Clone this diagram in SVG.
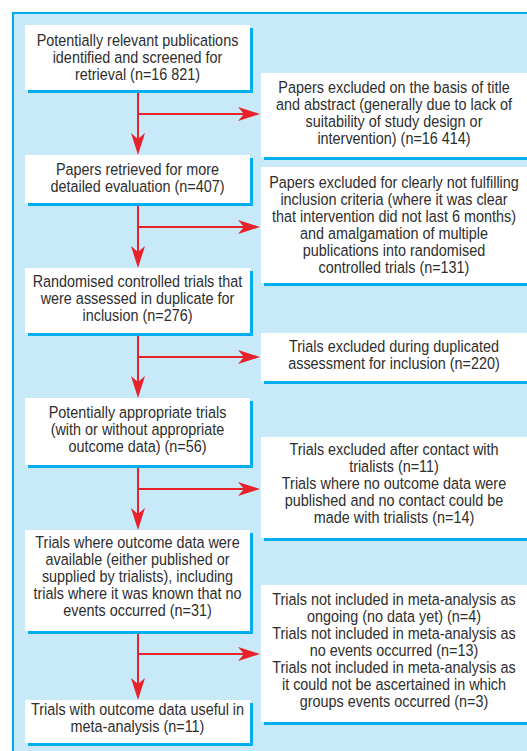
<svg xmlns="http://www.w3.org/2000/svg" width="527" height="751" viewBox="0 0 527 751">
<style>
.panel{fill:#c7e9f8;stroke:#00aeef;stroke-width:2}
.box{fill:#ffffff}
.sh{fill:#00aeef}
.t{font-family:"Liberation Sans",Arial,sans-serif;font-size:17px;fill:#2e2e2e;text-anchor:middle}
.ln{stroke:#e8222b;stroke-width:2;fill:none}
</style>
<defs>
<marker id="ah" viewBox="-23 -8 24 16" refX="-6" refY="0" markerWidth="24" markerHeight="16" markerUnits="userSpaceOnUse" orient="auto">
<path d="M0,0 L-22,-7 L-16,0 L-22,7 Z" fill="#e8222b"/>
</marker>
</defs>
<rect class="panel" x="13" y="13" width="530" height="760"/>

<g id="connectors">
<line class="ln" x1="138" y1="90" x2="138" y2="149" marker-end="url(#ah)"/>
<line class="ln" x1="138" y1="114" x2="254" y2="114" marker-end="url(#ah)"/>
<line class="ln" x1="138" y1="203" x2="138" y2="262" marker-end="url(#ah)"/>
<line class="ln" x1="138" y1="227" x2="254" y2="227" marker-end="url(#ah)"/>
<line class="ln" x1="138" y1="333" x2="138" y2="392" marker-end="url(#ah)"/>
<line class="ln" x1="138" y1="357" x2="254" y2="357" marker-end="url(#ah)"/>
<line class="ln" x1="138" y1="465" x2="138" y2="524" marker-end="url(#ah)"/>
<line class="ln" x1="138" y1="489" x2="254" y2="489" marker-end="url(#ah)"/>
<line class="ln" x1="138" y1="631" x2="138" y2="694" marker-end="url(#ah)"/>
<line class="ln" x1="138" y1="654" x2="254" y2="654" marker-end="url(#ah)"/>
</g>

<g id="n1">
<rect class="sh" x="28" y="28" width="225" height="65"/>
<rect class="box" x="25" y="25" width="225" height="65"/>
<text class="t" transform="translate(137.5,0) scale(0.847,1)"><tspan x="0" y="46">Potentially relevant publications</tspan><tspan x="0" y="63">identified and screened for</tspan><tspan x="0" y="80">retrieval (n=16 821)</tspan></text>
</g>

<g id="n2">
<rect class="sh" x="264" y="76" width="280" height="84"/>
<rect class="box" x="261" y="73" width="280" height="84"/>
<text class="t" transform="translate(394,0) scale(0.847,1)"><tspan x="0" y="93">Papers excluded on the basis of title</tspan><tspan x="0" y="110">and abstract (generally due to lack of</tspan><tspan x="0" y="127">suitability of study design or</tspan><tspan x="0" y="144">intervention) (n=16 414)</tspan></text>
</g>

<g id="n3">
<rect class="sh" x="28" y="158" width="225" height="48"/>
<rect class="box" x="25" y="155" width="225" height="48"/>
<text class="t" transform="translate(137.5,0) scale(0.847,1)"><tspan x="0" y="175">Papers retrieved for more</tspan><tspan x="0" y="192">detailed evaluation (n=407)</tspan></text>
</g>

<g id="n4">
<rect class="sh" x="264" y="170" width="280" height="116"/>
<rect class="box" x="261" y="167" width="280" height="116"/>
<text class="t" transform="translate(394,0) scale(0.847,1)"><tspan x="0" y="188">Papers excluded for clearly not fulfilling</tspan><tspan x="0" y="205">inclusion criteria (where it was clear</tspan><tspan x="0" y="222">that intervention did not last 6 months)</tspan><tspan x="0" y="239">and amalgamation of multiple</tspan><tspan x="0" y="256">publications into randomised</tspan><tspan x="0" y="273">controlled trials (n=131)</tspan></text>
</g>

<g id="n5">
<rect class="sh" x="28" y="271" width="225" height="65"/>
<rect class="box" x="25" y="268" width="225" height="65"/>
<text class="t" transform="translate(137.5,0) scale(0.847,1)"><tspan x="0" y="287">Randomised controlled trials that</tspan><tspan x="0" y="304">were assessed in duplicate for</tspan><tspan x="0" y="321">inclusion (n=276)</tspan></text>
</g>

<g id="n6">
<rect class="sh" x="264" y="336" width="280" height="48"/>
<rect class="box" x="261" y="333" width="280" height="48"/>
<text class="t" transform="translate(394,0) scale(0.847,1)"><tspan x="0" y="352">Trials excluded during duplicated</tspan><tspan x="0" y="369">assessment for inclusion (n=220)</tspan></text>
</g>

<g id="n7">
<rect class="sh" x="28" y="401" width="225" height="67"/>
<rect class="box" x="25" y="398" width="225" height="67"/>
<text class="t" transform="translate(137.5,0) scale(0.847,1)"><tspan x="0" y="418">Potentially appropriate trials</tspan><tspan x="0" y="435">(with or without appropriate</tspan><tspan x="0" y="452">outcome data) (n=56)</tspan></text>
</g>

<g id="n8">
<rect class="sh" x="264" y="440" width="280" height="101"/>
<rect class="box" x="261" y="437" width="280" height="101"/>
<text class="t" transform="translate(394,0) scale(0.847,1)"><tspan x="0" y="455">Trials excluded after contact with</tspan><tspan x="0" y="472">trialists (n=11)</tspan><tspan x="0" y="489">Trials where no outcome data were</tspan><tspan x="0" y="506">published and no contact could be</tspan><tspan x="0" y="523">made with trialists (n=14)</tspan></text>
</g>

<g id="n9">
<rect class="sh" x="28" y="533" width="225" height="101"/>
<rect class="box" x="25" y="530" width="225" height="101"/>
<text class="t" transform="translate(137.5,0) scale(0.847,1)"><tspan x="0" y="548">Trials where outcome data were</tspan><tspan x="0" y="565">available (either published or</tspan><tspan x="0" y="582">supplied by trialists), including</tspan><tspan x="0" y="599">trials where it was known that no</tspan><tspan x="0" y="616">events occurred (n=31)</tspan></text>
</g>

<g id="n10">
<rect class="sh" x="264" y="588" width="280" height="137"/>
<rect class="box" x="261" y="585" width="280" height="137"/>
<text class="t" transform="translate(394,0) scale(0.847,1)"><tspan x="0" y="605">Trials not included in meta-analysis as</tspan><tspan x="0" y="622">ongoing (no data yet) (n=4)</tspan><tspan x="0" y="639">Trials not included in meta-analysis as</tspan><tspan x="0" y="656">no events occurred (n=13)</tspan><tspan x="0" y="673">Trials not included in meta-analysis as</tspan><tspan x="0" y="690">it could not be ascertained in which</tspan><tspan x="0" y="707">groups events occurred (n=3)</tspan></text>
</g>

<g id="n11">
<rect class="sh" x="28" y="703" width="225" height="43"/>
<rect class="box" x="25" y="700" width="225" height="43"/>
<text class="t" transform="translate(137.5,0) scale(0.847,1)"><tspan x="0" y="715">Trials with outcome data useful in</tspan><tspan x="0" y="732">meta-analysis (n=11)</tspan></text>
</g>
</svg>
